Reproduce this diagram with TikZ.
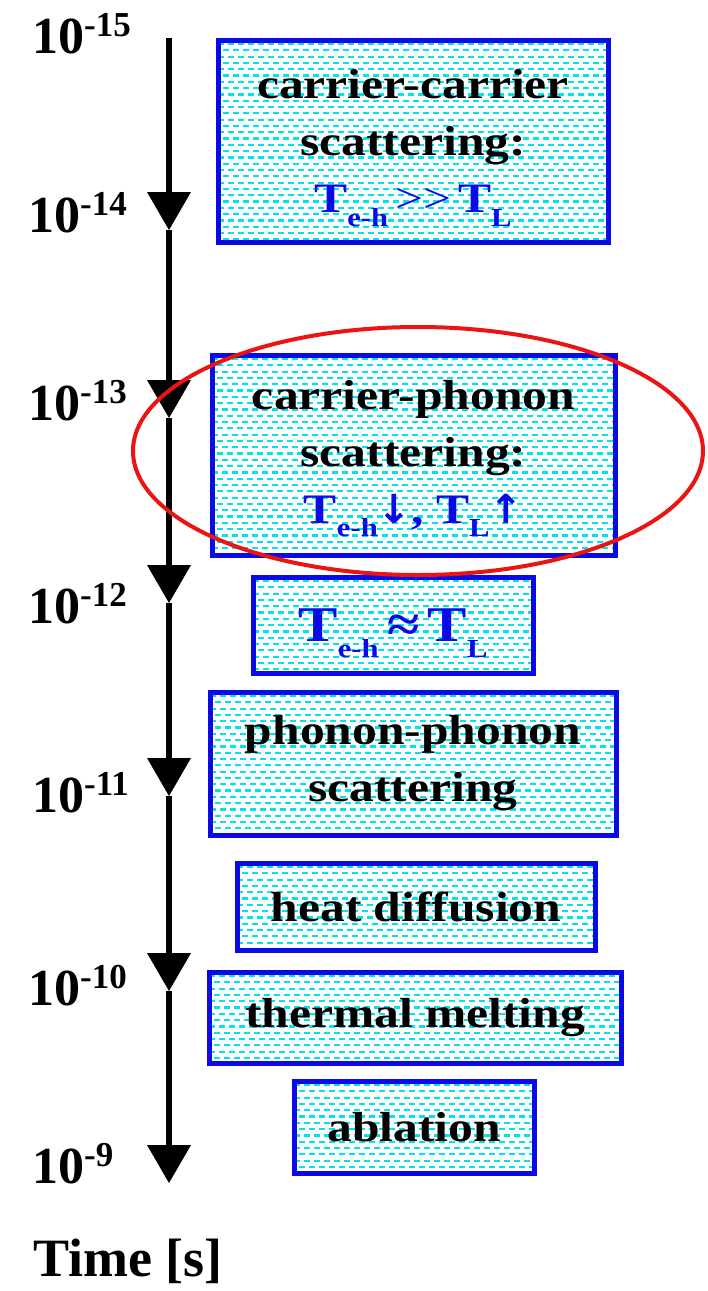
\documentclass[tikz,border=0pt]{standalone}
\usepackage{fontspec}
\usepackage{xcolor}
\usetikzlibrary{arrows.meta}

\newfontfamily\boxfont{Liberation Serif}[FakeStretch=1.18]
\newfontfamily\axisfont{Liberation Serif}
\newfontfamily\arrowfont{DejaVu Sans}
\definecolor{boxblue}{RGB}{10,10,230}
\definecolor{dashcyan}{RGB}{0,228,238}
\definecolor{ringred}{RGB}{235,20,20}

% T with a lowered index, and a power of ten
\newcommand{\Tsub}[1]{T\smash{\raisebox{-0.32em}{\fontsize{26}{26}\selectfont #1}}}
\newcommand{\pow}[1]{10\raisebox{0.31em}{\fontsize{35}{35}\selectfont #1}}
\newcommand{\bigarrow}[1]{{\arrowfont\bfseries\fontsize{40}{40}\selectfont #1}}

\begin{document}
\begin{tikzpicture}[x=1pt, y=-1pt,
  every node/.style={inner sep=0pt},
  procbox/.style 2 args={draw=boxblue, line width=5pt, fill=white, align=center,
    minimum width=#1pt, minimum height=#2pt,
    font=\boxfont\bfseries\fontsize{42}{57}\selectfont,
    path picture={
      \foreach \r [evaluate=\r as \ph using {mod(\r,2)*5}] in {0,...,34}
        \draw[dashcyan, line width=2.2pt, dash pattern=on 6pt off 4pt, dash phase=\ph pt]
          ([yshift=-4pt-\r*6.3pt]path picture bounding box.north west) -- ++(600pt,0);}},
  axislabel/.style={anchor=base west, font=\axisfont\bfseries\fontsize{52}{52}\selectfont},
  timeline/.style={line width=6pt, -{Triangle[width=44pt, length=38pt, line width=0pt]}},
  ring/.style={draw=ringred, line width=4pt},
]
\useasboundingbox (0,0) rectangle (708,1291);

% Time axis
\coordinate (t0) at (169,38);
\foreach \y [count=\k] in {230,418,603,796,991,1183}
  \coordinate (t\k) at (169,\y);
\foreach \a/\b in {t0/t1, t1/t2, t2/t3, t3/t4, t4/t5, t5/t6}
  \draw[timeline] (\a) -- (\b);

% Axis labels
\node[axislabel] (p15) at (32,53) {\pow{-15}};
\node[axislabel] (p14) at (28,232) {\pow{-14}};
\node[axislabel] (p13) at (28,420) {\pow{-13}};
\node[axislabel] (p12) at (28,623) {\pow{-12}};
\node[axislabel] (p11) at (32,812) {\pow{-11}};
\node[axislabel] (p10) at (28,1005) {\pow{-10}};
\node[axislabel] (p9) at (32,1183) {\pow{-9}};
\node[axislabel, font=\axisfont\bfseries\fontsize{54}{54}\selectfont] (tlabel) at (33,1276) {Time [s]};

% Processes
\node[procbox={390}{202}] (cc) at (413,141)
  {carrier-carrier\\scattering:\\\textcolor{boxblue}{\Tsub{e-h}\,{\mdseries >>}\,\Tsub{L}}};
\node[procbox={403}{200}] (cp) at (413.5,455)
  {carrier-phonon\\scattering:\\\textcolor{boxblue}{\Tsub{e-h}\bigarrow{↓}, \Tsub{L}\bigarrow{↑}}};
\node[procbox={280}{96}, font=\boxfont\bfseries\fontsize{50}{56}\selectfont] (eq) at (393,625)
  {\textcolor{boxblue}{\Tsub{e-h}\,≈\,\Tsub{L}}};
\node[procbox={406}{143}] (pp) at (413,763.5) {phonon-phonon\\scattering};
\node[procbox={358}{87}] (hd) at (416,906.5) {heat diffusion};
\node[procbox={412}{91}] (tm) at (415,1017.5) {thermal melting};
\node[procbox={240}{92}] (ab) at (414,1127) {ablation};

% Highlight
\draw[ring] (418,451) ellipse [x radius=285pt, y radius=124pt];
\end{tikzpicture}
\end{document}
